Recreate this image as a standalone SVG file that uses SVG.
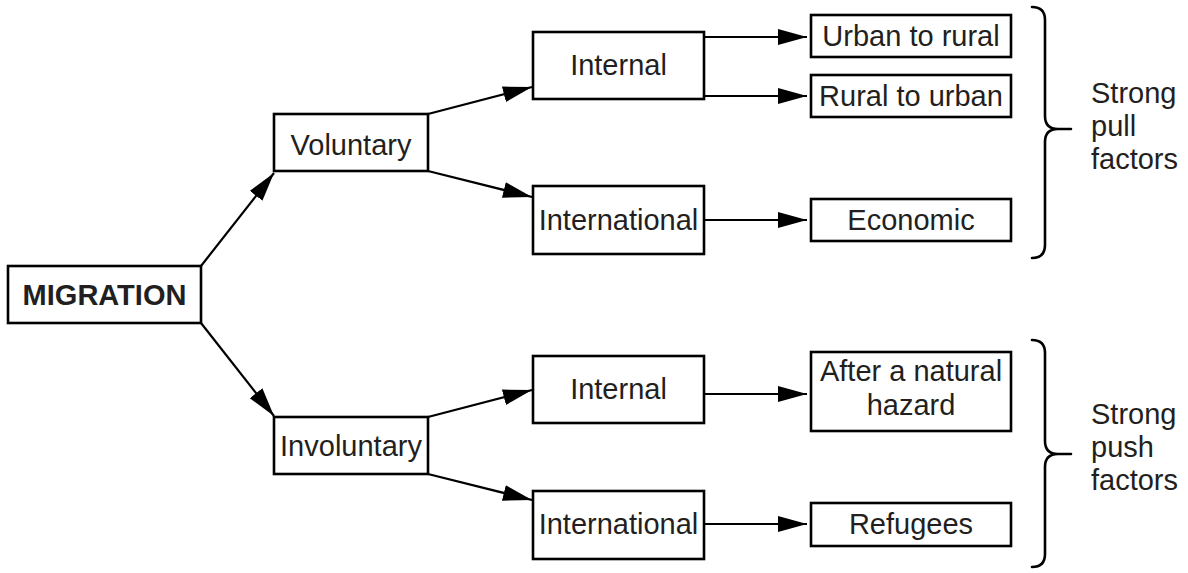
<svg xmlns="http://www.w3.org/2000/svg" width="1188" height="573" viewBox="0 0 1188 573">
  <style>
    .box { fill: #ffffff; stroke: #000000; stroke-width: 2.6; }
    .lbl { font-family: "Liberation Sans", Arial, Helvetica, sans-serif; font-size: 29px; fill: #231f20; text-anchor: middle; }
    .bold { font-weight: bold; }
    .side { font-family: "Liberation Sans", Arial, Helvetica, sans-serif; font-size: 29px; fill: #231f20; text-anchor: start; }
    .conn { fill: none; stroke: #000000; stroke-width: 2.2; marker-end: url(#arrow); }
    .brace { fill: none; stroke: #000000; stroke-width: 2.6; stroke-linecap: round; }
  </style>
  <defs>
    <marker id="arrow" markerUnits="userSpaceOnUse" markerWidth="32" markerHeight="18" refX="29" refY="8" orient="auto">
      <path d="M0,0 L29,8 L0,16 z" fill="#000000"/>
    </marker>
  </defs>
  <rect width="1188" height="573" fill="#ffffff"/>

  <g id="connectors">
    <line class="conn" x1="201" y1="266" x2="274" y2="173"/>
    <line class="conn" x1="201" y1="323" x2="274" y2="416"/>
    <line class="conn" x1="428" y1="114" x2="532" y2="87"/>
    <line class="conn" x1="428" y1="171" x2="532" y2="197"/>
    <line class="conn" x1="428" y1="417" x2="532" y2="390"/>
    <line class="conn" x1="428" y1="474" x2="532" y2="500"/>
    <line class="conn" x1="704" y1="37" x2="807" y2="37"/>
    <line class="conn" x1="704" y1="96" x2="807" y2="96"/>
    <line class="conn" x1="704" y1="220" x2="807" y2="220"/>
    <line class="conn" x1="704" y1="394" x2="807" y2="394"/>
    <line class="conn" x1="704" y1="524" x2="807" y2="524"/>
  </g>

  <g id="migration">
    <rect class="box" x="8" y="266" width="193" height="57"/>
    <text class="lbl bold" x="104.5" y="305">MIGRATION</text>
  </g>
  <g id="voluntary">
    <rect class="box" x="274" y="114" width="154" height="57"/>
    <text class="lbl" x="351" y="155">Voluntary</text>
  </g>
  <g id="involuntary">
    <rect class="box" x="274" y="417" width="154" height="57"/>
    <text class="lbl" x="351" y="456">Involuntary</text>
  </g>
  <g id="internal-voluntary">
    <rect class="box" x="533" y="32" width="171" height="67"/>
    <text class="lbl" x="618.5" y="75">Internal</text>
  </g>
  <g id="international-voluntary">
    <rect class="box" x="533" y="186" width="171" height="68"/>
    <text class="lbl" x="618.5" y="230">International</text>
  </g>
  <g id="internal-involuntary">
    <rect class="box" x="533" y="356" width="171" height="67"/>
    <text class="lbl" x="618.5" y="399">Internal</text>
  </g>
  <g id="international-involuntary">
    <rect class="box" x="533" y="491" width="171" height="68"/>
    <text class="lbl" x="618.5" y="534">International</text>
  </g>
  <g id="urban-to-rural">
    <rect class="box" x="811" y="15" width="200" height="42"/>
    <text class="lbl" x="911" y="46">Urban to rural</text>
  </g>
  <g id="rural-to-urban">
    <rect class="box" x="811" y="75" width="200" height="42"/>
    <text class="lbl" x="911" y="106">Rural to urban</text>
  </g>
  <g id="economic">
    <rect class="box" x="811" y="199" width="200" height="42"/>
    <text class="lbl" x="911" y="230">Economic</text>
  </g>
  <g id="natural-hazard">
    <rect class="box" x="811" y="352" width="200" height="79"/>
    <text class="lbl" x="911" y="381">After a natural</text>
    <text class="lbl" x="911" y="415">hazard</text>
  </g>
  <g id="refugees">
    <rect class="box" x="811" y="503" width="200" height="43"/>
    <text class="lbl" x="911" y="534">Refugees</text>
  </g>

  <g id="pull-brace">
    <path class="brace" d="M1032,7 Q1045,7 1045,20 L1045,116 Q1045,129 1058,129 L1071,129 M1058,129 Q1045,129 1045,142 L1045,245 Q1045,258 1032,258"/>
    <text class="side" x="1091" y="103">Strong</text>
    <text class="side" x="1091" y="136">pull</text>
    <text class="side" x="1091" y="169">factors</text>
  </g>
  <g id="push-brace">
    <path class="brace" d="M1032,340 Q1045,340 1045,353 L1045,441 Q1045,454 1058,454 L1071,454 M1058,454 Q1045,454 1045,467 L1045,554 Q1045,567 1032,567"/>
    <text class="side" x="1091" y="424">Strong</text>
    <text class="side" x="1091" y="457">push</text>
    <text class="side" x="1091" y="490">factors</text>
  </g>
</svg>
